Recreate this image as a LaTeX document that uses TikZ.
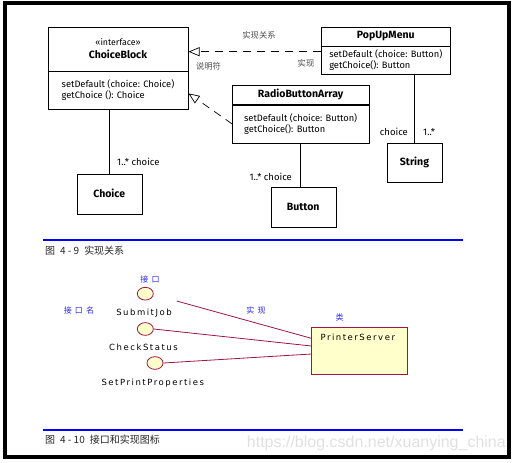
\documentclass[tikz,border=0pt]{standalone}
\usepackage{fontspec}
\setmainfont{Fira Sans}
\newfontfamily\cjk{Noto Sans CJK SC}
\newfontfamily\cjkwide[LetterSpace=40]{Noto Sans CJK SC}
\newfontfamily\handfont[LetterSpace=18]{DejaVu Sans}
\newfontfamily\markfont{Liberation Sans}
\usetikzlibrary{arrows.meta,positioning,shapes.geometric,calc}
\definecolor{umlred}{RGB}{160,20,70}
\definecolor{noteyellow}{RGB}{255,255,204}
\definecolor{noteblue}{RGB}{40,40,255}

\begin{document}
\begin{tikzpicture}[
  x=1pt,y=-1pt,
  head/.style={draw, align=center, font=\fontsize{10.5}{13}\selectfont, inner sep=0pt},
  body/.style={draw, align=left, anchor=north, font=\fontsize{9.3}{10.8}\selectfont, inner sep=0pt},
  cls/.style={draw, font=\bfseries\fontsize{10.5}{12}\selectfont, minimum width=65pt, minimum height=40pt},
  lbl/.style={font=\fontsize{9.5}{11}\selectfont, inner sep=0pt},
  zh/.style={font=\cjk\fontsize{8.3}{9}\selectfont, text=black!70, inner sep=0pt},
  real/.style={dash pattern=on 8pt off 6pt, -{Triangle[open, length=11pt, width=9pt]}, line width=0.7pt},
  assoc/.style={line width=0.7pt},
  iface/.style={ellipse, draw=umlred, fill=noteyellow, minimum width=16pt, minimum height=12.7pt, inner sep=0pt, line width=0.8pt},
  hand/.style={font=\handfont\fontsize{8.5}{9}\selectfont, inner sep=0pt},
  note/.style={font=\cjkwide\fontsize{8}{9}\selectfont, text=noteblue, inner sep=0pt},
  link/.style={draw=umlred, line width=0.8pt},
  rule/.style={draw=blue, line width=2pt},
  caption/.style={font=\cjk\fontsize{10}{11}\selectfont, text=black!85, anchor=west, inner sep=0pt}
]
\useasboundingbox (0,0) rectangle (515,463);
\draw[line width=3.6pt] (5,2.8) rectangle (508.8,457);

% realization: class diagram
\node[head, minimum width=140.6pt, minimum height=43.4pt] (cbh) at (118,49) {{\fontsize{8.8}{9}\selectfont «interface»}\\\textbf{ChoiceBlock}};
\node[body, minimum width=140.6pt, minimum height=37.6pt] (cbb) at (cbh.south) {setDefault (choice: Choice)\\getChoice (): Choice};
\node[head, minimum width=128.3pt, minimum height=19pt] (poph) at (385.8,36.2) {\textbf{PopUpMenu}};
\node[body, minimum width=128.3pt, minimum height=28.3pt] (popb) at (poph.south) {setDefault (choice: Button)\\getChoice(): Button};
\node[head, minimum width=136.7pt, minimum height=19.3pt] (rbah) at (300.7,94.7) {\textbf{RadioButtonArray}};
\node[body, minimum width=136.7pt, minimum height=38.4pt] (rbab) at (rbah.south) {setDefault (choice: Button)\\getChoice(): Button};
\node[cls] (choice) at (109.2,193.7) {Choice};
\node[cls] (button) at (303.2,206.7) {Button};
\node[cls, minimum width=54.4pt, minimum height=39pt] (string) at (414.5,162.2) {String};

\coordinate (tip1) at ([yshift=-2.7pt]cbh.east);
\draw[real] (popb.west |- tip1) -- (tip1);
\draw[real] (rbab.west) -- ([yshift=-3.5pt]cbb.east);
\draw[assoc] (choice.north) -- (choice.north |- cbb.south);
\draw[assoc] (rbab.south) -- (rbab.south |- button.north);
\draw[assoc] (string.north) -- (string.north |- popb.south);

\node[lbl, anchor=west] (m1) at (117,161.7) {1..* choice};
\node[lbl, anchor=east] (m2) at (292,177.3) {1..* choice};
\node[lbl, anchor=east] (m3) at (408,132.3) {choice};
\node[lbl, anchor=west] (m4) at (423,132.3) {1..*};
\node[zh] (rel) at (259,35) {实现关系};
\node[zh] (spec) at (208.5,66.7) {说明符};
\node[zh] (impl) at (306,63.3) {实现};

% captions
\coordinate (r1a) at (43.3,240); \coordinate (r1b) at (462.8,240);
\coordinate (r2a) at (43.3,430); \coordinate (r2b) at (462.8,430);
\draw[rule] (r1a) -- (r1b);
\node[caption] (cap1) at (45,251) {图\enspace 4 - 9\enspace 实现关系};
\draw[rule] (r2a) -- (r2b);
\node[caption] (cap2) at (45,439.5) {图\enspace 4 - 10\enspace 接口和实现图标};

% interfaces and realization icons
\node[iface] (i1) at (145.3,293.7) {};
\node[iface] (i2) at (145.3,329) {};
\node[iface] (i3) at (155,363) {};
\node[hand] (t1) at (144,313.3) {SubmitJob};
\node[hand] (t2) at (143.5,347.3) {CheckStatus};
\node[hand] (t3) at (152.8,382.7) {SetPrintProperties};
\node[note] (n1) at (150,279.3) {接口};
\node[note] (n2) at (79,310) {接口名};
\node[note] (n3) at (256,310.7) {实现};
\node[note] (n4) at (339.5,317.3) {类};
\node[draw=umlred, fill=noteyellow, line width=0.8pt, minimum width=96pt, minimum height=46.6pt,
  label={[hand, anchor=north west, xshift=9pt, yshift=-7pt]north west:PrinterServer}] (ps) at (359.7,351) {};
\coordinate (j1) at (176.7,301);
\draw[link] (j1) -- ([yshift=12.7pt]ps.west);
\draw[link] (i2.east) -- ([yshift=5pt]ps.west);
\draw[link] (i3.east) -- ([yshift=-3pt]ps.west);

\node[font=\markfont\fontsize{16}{17}\selectfont, text=black!12, anchor=east, inner sep=0pt] (wm) at (506,443.5) {https://blog.csdn.net/xuanying\_china};
\end{tikzpicture}
\end{document}
